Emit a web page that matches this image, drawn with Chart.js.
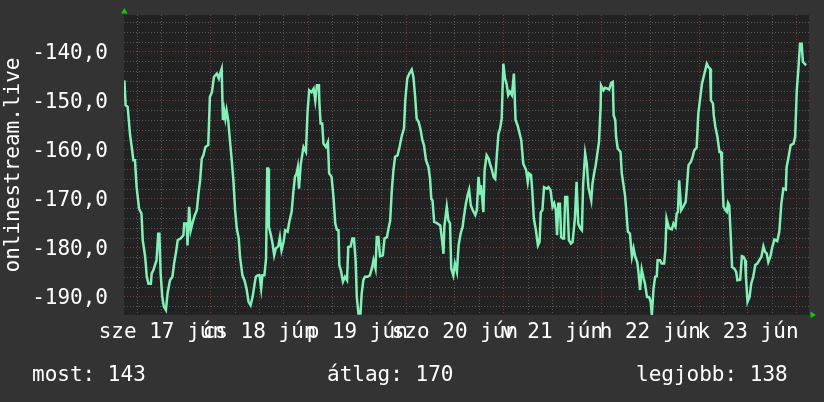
<!DOCTYPE html>
<html>
<head>
<meta charset="utf-8">
<script src="https://cdn.jsdelivr.net/npm/chart.js@4"></script>
<style>
    body { margin: 0; background: #333333; }
    #wrap { position: relative; width: 824px; height: 402px; background: #333333; }
    canvas { display: block; }
    .stat {
        position: absolute;
        top: 364px;
        font-family: "DejaVu Sans Mono", monospace;
        font-size: 21px;
        line-height: 21px;
        color: #ffffff;
        white-space: pre;
    }
</style>
</head>
<body>
<div id="wrap">
    <canvas id="rrdChart" width="824" height="402"></canvas>
    <div class="stat" style="left:32px">most: 143</div>
    <div class="stat" style="left:327px">átlag: 170</div>
    <div class="stat" style="left:636px">legjobb: 138</div>
</div>
<script>
// hours since jún 17 00:00
const hours = [
    2.8, 3.1, 3.6, 4.2, 4.6, 5.0, 5.4, 5.8, 6.4, 7.0, 7.3, 7.9, 8.3, 8.7, 9.3, 9.5, 9.9, 10.3, 10.7, 11.1,
    11.4, 11.7, 12.1, 12.5, 13.0, 13.4, 14.0, 14.6, 15.0, 15.5, 15.9, 16.6, 17.3, 17.5, 18.1, 18.3, 18.7, 19.1, 19.6, 20.1,
    20.6, 21.0, 21.4, 21.8, 22.2, 22.7, 23.4, 23.8, 24.3, 24.8, 25.5, 26.0, 26.3, 26.7, 27.0, 27.3, 27.6, 27.9, 28.3, 28.8,
    29.2, 29.6, 30.0, 30.4, 30.9, 31.2, 31.8, 32.3, 32.8, 33.3, 33.8, 34.3, 34.8, 35.1, 35.6,
    36.0, 36.4, 36.7, 37.2, 37.6, 37.9, 38.1, 38.3, 38.8, 39.2, 39.6, 40.0, 40.6, 41.0, 41.4, 41.9, 42.3, 42.9, 43.3, 43.9,
    44.3, 44.7, 45.1, 45.4, 45.7, 46.1, 46.8, 47.4, 47.8, 48.2, 48.8, 49.3, 49.7, 50.1, 50.6, 50.7, 51.0, 51.4, 51.7, 52.3,
    52.8, 53.1, 53.7, 54.2, 54.6, 55.0, 55.4, 55.6, 56.0, 56.5, 57.0, 57.5, 57.8, 58.4, 58.8, 59.2, 59.6, 59.9, 60.3, 60.8,
    61.1, 61.5, 61.9, 62.5, 63.1, 63.6, 64.0, 64.5, 64.8, 65.2, 65.6, 66.3, 66.7, 67.3, 67.7, 68.1,
    68.5, 68.9, 69.3, 69.9, 70.4, 70.9, 71.5, 71.8, 72.3, 72.8, 73.4, 73.8, 74.2, 74.6, 75.1, 75.6, 76.0, 76.4, 76.9, 77.5,
    77.9, 78.2, 78.5, 78.9, 79.5, 80.4, 80.8, 81.2, 81.4, 82.0, 82.4, 82.8, 83.1, 83.6, 84.0, 84.5, 84.9, 85.4, 85.9, 86.2,
    86.7, 87.1, 87.5, 87.9, 88.4, 89.0, 89.4, 89.8, 90.2, 90.4, 91.0, 91.3, 91.8, 92.3, 92.6, 93.0, 93.5, 93.9, 94.3, 94.7,
    95.1, 95.5, 95.9, 96.3, 96.7, 97.1, 97.5, 98.0, 98.5, 98.9, 99.4, 99.8, 100.3, 100.8, 101.5, 101.9,
    102.2, 102.7, 103.0, 103.4, 103.9, 104.4, 104.8, 105.1, 105.5, 105.9, 106.6, 107.0, 107.5, 108.0, 108.4, 108.8, 109.1, 109.4, 109.8, 110.1,
    110.5, 110.8, 111.1, 111.6, 112.0, 112.5, 112.9, 113.2, 113.5, 113.9, 114.3, 114.8, 115.2, 115.5, 116.0, 116.4, 116.8, 117.5, 117.8, 118.2,
    118.6, 119.0, 119.4, 119.8, 119.9, 120.5, 120.9, 121.5, 121.9, 122.4, 122.8, 123.0, 123.4, 123.6, 124.0, 124.7, 125.0, 125.5, 125.8, 126.1,
    126.5, 127.0, 127.5, 127.9, 128.3, 128.8, 129.1, 129.5, 129.9, 130.4, 130.7, 131.2, 131.7, 132.1, 132.4, 132.8, 133.2, 133.6, 133.8, 134.4,
    134.8, 135.4, 135.7, 136.0, 136.6, 137.3, 137.7, 138.2, 138.5, 138.8, 139.1, 139.3, 139.6, 140.1, 140.7, 141.0, 141.4, 142.0, 142.4, 142.8,
    143.4, 143.8, 144.2, 144.7, 145.1, 145.6, 145.9, 146.3, 146.7, 146.9, 147.4, 147.6, 148.0, 148.5, 149.0, 149.4, 149.6, 150.0, 150.5, 150.8,
    151.1, 151.4, 151.8, 152.1, 152.6, 153.1, 153.4, 154.1, 154.5, 154.9, 155.3, 155.5, 155.9, 156.4, 156.8, 157.3, 157.8, 158.3, 158.8, 159.3,
    159.8, 160.2, 160.6, 161.0, 161.5, 162.0, 162.5, 163.2, 163.7, 164.2, 164.7, 165.3, 165.5, 165.9, 166.5, 167.2, 167.6, 168.0, 168.4, 168.8,
    169.2, 169.5, 169.9, 170.3
];

const listeners = [
    -145.8, -150.9, -151.2, -157, -159.4, -162.1, -162.1, -167.6, -172, -173, -178.4, -181.8, -185.9, -187.3, -187.3, -185.2, -184.6, -183.5, -182.5, -177.1,
    -177.1, -185.2, -190, -192, -192.7, -189.3, -186.6, -185.9, -183.2, -180.8, -178.4, -178.1, -177.4, -175, -175, -179.5, -171.6, -176.4, -174.7, -173.3,
    -172.3, -168.9, -166.2, -161.8, -161.1, -159.4, -159, -149.2, -148.2, -145.1, -144.4, -145.4, -144.4, -143.4, -153.9, -151.9, -153.6, -151.9, -153.9, -158.7,
    -162.4, -166.5, -172.3, -176, -178.1, -181.8, -185.6, -186.6, -188.3, -191, -191.7, -190, -187.3, -185.9, -185.6,
    -185.6, -188.3, -185.6, -185.6, -182.2, -163.8, -163.8, -175.7, -177.4, -179.1, -181.5, -180.1, -179.7, -177.8, -180.5, -178.8, -176.4, -176.7, -174.7, -172.6,
    -168.6, -165.5, -164.8, -163.5, -167.9, -163.1, -159.4, -160.4, -152.2, -147.8, -148.2, -147.5, -149.9, -146.8, -146.8, -150.2, -154.6, -154.6, -158.7, -159.4,
    -158.4, -164.8, -165.5, -170, -175, -176.3, -176.4, -183.5, -184.6, -186.9, -185.9, -186.6, -179.8, -179.7, -178.1, -178.1, -182.5, -190, -193.4, -193.4,
    -189.3, -186.6, -185.9, -185.9, -185.6, -184.2, -182.5, -184.2, -177.8, -177.8, -181.7, -181.5, -178.1, -177.8, -176, -174.4,
    -168.2, -164.1, -161.4, -161.1, -159.4, -157.3, -155.6, -149.9, -145.4, -144.4, -143.6, -145.1, -148.8, -153.6, -154.3, -156, -158, -159, -162.1, -163.5,
    -165.9, -170, -170.3, -174.7, -174.9, -175.4, -178.1, -181.2, -175.7, -171.6, -174.4, -175, -184.2, -185.6, -183.2, -184.9, -179.5, -177.1, -175.7, -173.7,
    -171, -169.3, -168.1, -171.3, -172.3, -173.3, -172.3, -165.5, -168.9, -167.2, -172.7, -164.1, -161.1, -161.8, -162.8, -163.8, -165.5, -165.9, -161.1, -156.7,
    -155.6, -153.6, -142.4, -145.4, -146.5, -148.8, -148.1, -148.8, -144.4, -153.9, -155, -156.3, -158, -162.8, -164.1, -166.5,
    -164.8, -165.1, -168.2, -174, -176.4, -179.5, -178.8, -172.7, -172.3, -167.6, -167.9, -167.6, -168.2, -171.6, -170.9, -172.3, -177.4, -171, -171, -177.8,
    -178.1, -178.1, -169.6, -169.6, -178.4, -179.1, -178.8, -176.4, -173.7, -166.5, -175, -176, -176.4, -167.2, -160.7, -162.8, -167.6, -170.3, -166.9, -164.8,
    -163.1, -160.7, -158.4, -151.2, -146.8, -147.8, -147.3, -147.5, -147.7, -146.3, -146.1, -152.9, -153.9, -157.3, -159.7, -160.4, -164.8, -167.6, -169.3, -172.3,
    -176.7, -177.1, -181.8, -180.1, -181.8, -182.9, -184.9, -188.6, -184.4, -186.3, -187.3, -190, -190, -191, -193.7, -188.3, -185.9, -185.8, -182.5, -182.5,
    -183.2, -183.2, -180.5, -174, -176, -176.2, -175, -175.7, -173, -172.7, -166.2, -166.2, -172.3, -171.6, -170.6, -167.6, -163.1, -162.4, -161.4, -160.1,
    -159.5, -152.6, -149.9, -146.5, -145.1, -143.4, -142.4, -143.1, -143.4, -149.9, -150.5, -152.9, -155.3, -157.3, -160.4, -160.4, -163.5, -171.6, -172.3, -172.6,
    -170.8, -171.3, -178.1, -183.9, -184.2, -184.9, -186.6, -186.5, -181.7, -181.8, -182.5, -185.9, -191, -190, -187.3, -185.9, -183.5, -183.2, -182.5, -181.8,
    -179.7, -180.8, -181.1, -182.9, -181.8, -179.8, -178.3, -178.6, -176.7, -171, -167.9, -168.1, -163.5, -161.8, -159, -158.7, -157.3, -147.8, -143.4, -138.3,
    -138.3, -142, -142.4, -142.7
];

// noon of each day carries the date label
const labelHours = [12, 36, 60, 84, 108, 132, 156];
const dayLabels = ['sze 17 jún', 'cs 18 jún', 'p 19 jún', 'szo 20 jún', 'v 21 jún', 'h 22 jún', 'k 23 jún'];

const xMin = 2.7;
const xMax = 171.0;
const yMin = -193.7;
const yMax = -132.45;

const FONT = 'DejaVu Sans Mono';
const GRID_MINOR = '#565656';
const GRID_MAJOR = '#803434';

// dark plot background + little green axis arrows, like rrdtool
const rrdFrame = {
    id: 'rrdFrame',
    beforeDraw(chart) {
        const { ctx, chartArea } = chart;
        ctx.save();
        ctx.fillStyle = '#222222';
        ctx.fillRect(chartArea.left, chartArea.top, chartArea.right - chartArea.left, chartArea.bottom - chartArea.top);
        ctx.restore();
    },
    afterDraw(chart) {
        const { ctx, chartArea } = chart;
        ctx.save();
        ctx.fillStyle = '#00d000';
        ctx.beginPath();
        ctx.moveTo(chartArea.left - 3, chartArea.top - 1.5);
        ctx.lineTo(chartArea.left + 3.5, chartArea.top - 1.5);
        ctx.lineTo(chartArea.left + 0.5, chartArea.top - 7);
        ctx.closePath();
        ctx.fill();
        ctx.beginPath();
        ctx.moveTo(chartArea.right + 1.5, chartArea.bottom - 3.5);
        ctx.lineTo(chartArea.right + 1.5, chartArea.bottom + 3);
        ctx.lineTo(chartArea.right + 7, chartArea.bottom);
        ctx.closePath();
        ctx.fill();
        ctx.restore();
    }
};

// no extra room for half-labels at the axis ends
function noEdgePadding(scale) {
    scale.paddingTop = 0;
    scale.paddingBottom = 0;
    scale.paddingLeft = 0;
    scale.paddingRight = 0;
}

const ctx = document.getElementById('rrdChart').getContext('2d');
new Chart(ctx, {
    type: 'line',
    data: {
        datasets: [{
            label: 'onlinestream.live',
            data: hours.map((h, i) => ({ x: h, y: listeners[i] })),
            borderColor: '#7ef2b8',
            borderWidth: 2.5,
            pointRadius: 0,
            tension: 0,
            fill: false
        }]
    },
    options: {
        responsive: false,
        animation: false,
        devicePixelRatio: 1,
        layout: { padding: { top: 15, right: 15, left: 0, bottom: 0 } },
        plugins: {
            legend: { display: false },
            tooltip: { enabled: false }
        },
        scales: {
            x: {
                type: 'linear',
                min: xMin,
                max: xMax,
                afterFit: (scale) => { scale.height = 87; noEdgePadding(scale); },
                ticks: {
                    stepSize: 6,
                    includeBounds: false,
                    autoSkip: false,
                    maxRotation: 0,
                    padding: 5,
                    color: '#ffffff',
                    font: { family: FONT, size: 21 },
                    callback: (v) => {
                        const k = labelHours.indexOf(v);
                        return k >= 0 ? dayLabels[k] : '';
                    }
                },
                grid: {
                    drawTicks: false,
                    color: (c) => (c.tick && c.tick.value % 24 === 0 ? GRID_MAJOR : GRID_MINOR)
                },
                border: { display: false, dash: [1, 2] }
            },
            y: {
                min: yMin,
                max: yMax,
                afterFit: (scale) => { scale.width = 124; noEdgePadding(scale); },
                ticks: {
                    stepSize: 2,
                    includeBounds: false,
                    autoSkip: false,
                    padding: 16,
                    labelOffset: 2,
                    color: '#ffffff',
                    font: { family: FONT, size: 21 },
                    callback: (v) => (v % 10 === 0 ? v.toFixed(1).replace('.', ',') : '')
                },
                grid: {
                    drawTicks: false,
                    color: (c) => (c.tick && c.tick.value % 10 === 0 ? GRID_MAJOR : GRID_MINOR)
                },
                border: { display: false, dash: [1, 2] },
                title: {
                    display: true,
                    text: 'onlinestream.live',
                    color: '#ffffff',
                    font: { family: FONT, size: 21 },
                    padding: { top: 1, bottom: 0 }
                }
            }
        }
    },
    plugins: [rrdFrame]
});
</script>
</body>
</html>
